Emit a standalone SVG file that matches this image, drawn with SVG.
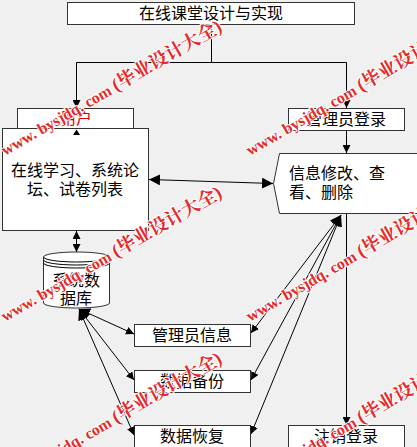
<svg xmlns="http://www.w3.org/2000/svg" width="417" height="447" viewBox="0 0 417 447">
<style>
.box{fill:#fff;stroke:#333;stroke-width:1}
.t{font-family:"Liberation Sans","Noto Sans CJK SC",sans-serif;font-size:16px;fill:#000}
.c{text-anchor:middle}
.ln{stroke:#000;stroke-width:1;fill:none}
.wm{font-family:"Liberation Serif","Noto Serif CJK SC","Noto Sans CJK SC",serif;font-weight:bold;font-size:16px;fill:#e42a2a;stroke:#fff;stroke-width:2;paint-order:stroke;stroke-linejoin:round}
.cj{font-size:18.5px}
</style>
<defs>
<marker id="ah" viewBox="0 0 10 10" refX="10" refY="5" markerWidth="8" markerHeight="8" markerUnits="userSpaceOnUse" orient="auto-start-reverse">
<path d="M0,0 L10,5 L0,10 Z" fill="#000"/>
</marker>
<marker id="ahb" viewBox="0 0 10 10" refX="10" refY="5" markerWidth="11" markerHeight="11" markerUnits="userSpaceOnUse" orient="auto-start-reverse">
<path d="M0,0 L10,5 L0,10 Z" fill="#000"/>
</marker>
</defs>
<rect width="417" height="447" fill="#f0f0f0"/>

<g id="title">
<rect class="box" x="67.5" y="2.5" width="287" height="22"/>
<text class="t c" x="211" y="19">在线课堂设计与实现</text>
</g>
<g id="user">
<rect class="box" x="17.5" y="108.5" width="116" height="22"/>
<text class="t c" x="76" y="124" style="fill:#e00000">用户</text>
</g>
<g id="functions">
<rect class="box" x="2.5" y="128.5" width="146" height="102"/>
<text class="t c" x="75" y="176">在线学习、系统论</text>
<text class="t c" x="75" y="195">坛、试卷列表</text>
</g>
<g id="admin-login">
<rect class="box" x="288.5" y="108.5" width="116" height="22"/>
<text class="t c" x="346" y="125">管理员登录</text>
</g>
<g id="info">
<path class="box" d="M279.5,153.5 L420,153.5 L420,213.5 L279.5,213.5 L273.5,183.5 Z"/>
<text class="t" x="289" y="179">信息修改、查</text>
<text class="t" x="289" y="198">看、删除</text>
</g>
<g id="database">
<path class="box" d="M43.5,257 L43.5,303 A33,5 0 0 0 109.5,303 L109.5,257 A33,5 0 0 0 43.5,257 Z"/>
<path class="ln" d="M43.5,257 A33,5 0 0 0 109.5,257"/>
<path class="ln" d="M43.5,260 A33,5 0 0 0 109.5,260"/>
<path class="ln" d="M43.5,263 A33,5 0 0 0 109.5,263"/>
<text class="t c" x="76" y="286">系统数</text>
<text class="t c" x="76" y="304">据库</text>
</g>
<g id="admin-info">
<rect class="box" x="134.5" y="324.5" width="116" height="22"/>
<text class="t c" x="192" y="341">管理员信息</text>
</g>
<g id="backup">
<rect class="box" x="134.5" y="370.5" width="116" height="22"/>
<text class="t c" x="192" y="387">数据备份</text>
</g>
<g id="restore">
<rect class="box" x="134.5" y="425.5" width="116" height="22"/>
<text class="t c" x="192" y="442">数据恢复</text>
</g>
<g id="logout">
<rect class="box" x="288.5" y="425.5" width="116" height="22"/>
<text class="t c" x="346" y="442">注销登录</text>
</g>

<g id="connectors">
<path class="ln" d="M211.5,24.5 L211.5,62.5"/>
<path class="ln" d="M76.5,62.5 L346.5,62.5"/>
<path class="ln" d="M76.5,62.5 L76.5,108" marker-end="url(#ah)"/>
<path class="ln" d="M346.5,62.5 L346.5,108" marker-end="url(#ah)"/>
<path d="M73,135 L76.5,129.5 L80,135 Z" fill="#000"/>
<path class="ln" d="M346.5,131 L346.5,153" marker-end="url(#ah)"/>
<path class="ln" d="M149,179.5 L273,183.5" marker-start="url(#ahb)" marker-end="url(#ahb)"/>
<path class="ln" d="M76.5,231 L76.5,252" marker-start="url(#ah)" marker-end="url(#ah)"/>
<path class="ln" d="M346.5,214 L346.5,425" marker-end="url(#ah)"/>
<path class="ln" d="M341,215 L251,333" marker-start="url(#ahb)" marker-end="url(#ah)"/>
<path class="ln" d="M341,215 L251,380" marker-start="url(#ahb)" marker-end="url(#ah)"/>
<path class="ln" d="M341,215 L251,434" marker-start="url(#ahb)" marker-end="url(#ah)"/>
<path class="ln" d="M79,309 L134,334" marker-start="url(#ahb)" marker-end="url(#ah)"/>
<path class="ln" d="M79,309 L134,380" marker-start="url(#ahb)" marker-end="url(#ah)"/>
<path class="ln" d="M79,309 L134,435" marker-start="url(#ahb)" marker-end="url(#ah)"/>
</g>

<g id="watermark">
<text class="wm" transform="translate(5,156) rotate(-30)">www. bysjdq. com <tspan class="cj">(毕业设计大全)</tspan></text>
<text class="wm" transform="translate(250,156) rotate(-30)">www. bysjdq. com <tspan class="cj">(毕业设计大全)</tspan></text>
<text class="wm" transform="translate(5,322) rotate(-30)">www. bysjdq. com <tspan class="cj">(毕业设计大全)</tspan></text>
<text class="wm" transform="translate(250,322) rotate(-30)">www. bysjdq. com <tspan class="cj">(毕业设计大全)</tspan></text>
<text class="wm" transform="translate(5,488) rotate(-30)">www. bysjdq. com <tspan class="cj">(毕业设计大全)</tspan></text>
<text class="wm" transform="translate(250,488) rotate(-30)">www. bysjdq. com <tspan class="cj">(毕业设计大全)</tspan></text>
</g>
</svg>
